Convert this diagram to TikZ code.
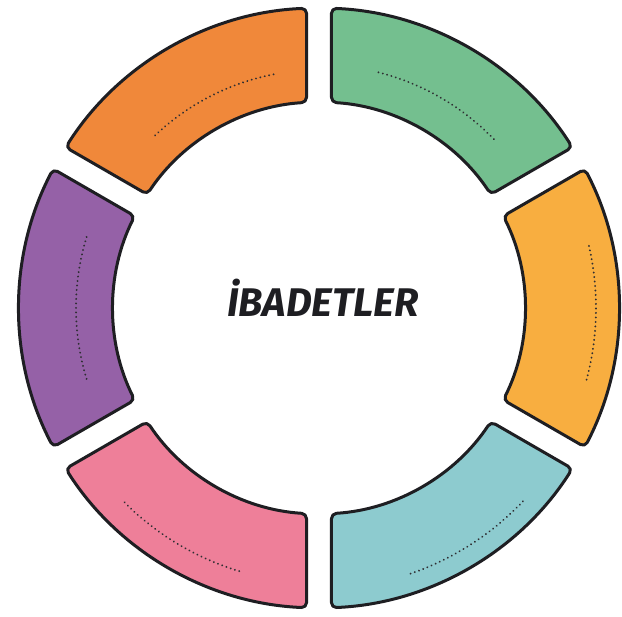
\documentclass[tikz,border=0pt]{standalone}
\usepackage{fontspec}
\newfontfamily\titlefont{Fira Sans}
\usetikzlibrary{calc}

\definecolor{segorange}{HTML}{F0883A}
\definecolor{seggreen}{HTML}{74BF8F}
\definecolor{segyellow}{HTML}{F8AE40}
\definecolor{segteal}{HTML}{8DCBCF}
\definecolor{segpink}{HTML}{EE7F99}
\definecolor{segpurple}{HTML}{9561A7}
\definecolor{segline}{HTML}{1E1E22}
\definecolor{dotcolor}{HTML}{2E2E32}

\tikzset{
  segment/.style={draw=segline, line width=3pt, rounded corners=5pt, line join=round},
  dotline/.style={draw=dotcolor, line width=2pt, dash pattern=on 0.1pt off 4.4pt, line cap=round},
}

\begin{document}
\begin{tikzpicture}[x=1pt,y=1pt]
    \useasboundingbox (0,0) rectangle (622,617);
    \coordinate (c) at (319,309);
    \def\Rout{300}
    \def\Rin{206}
    \def\gap{12.5}

    % ring segments
    \foreach \a/\b/\col in {90/150/segorange, 30/90/seggreen, -30/30/segyellow,
                            -90/-30/segteal, -150/-90/segpink, 150/210/segpurple}{
        \pgfmathsetmacro\dout{asin(\gap/\Rout)}
        \pgfmathsetmacro\din{asin(\gap/\Rin)}
        \draw [segment, fill=\col]
            ($(c)+(\a+\dout:\Rout)$) arc [start angle=\a+\dout, end angle=\b-\dout, radius=\Rout]
            -- ($(c)+(\b-\din:\Rin)$) arc [start angle=\b-\din, end angle=\a+\din, radius=\Rin]
            -- cycle;
    }

    % dotted writing lines
    \foreach \s/\e/\r in {101/134/238, 44/76/243, -15/13/277,
                          -71/-43/281, -135/-106/275, 163/197/243}{
        \draw [dotline] ($(c)+(\s:\r)$) arc [start angle=\s, end angle=\e, radius=\r];
    }

    \node [text=segline, font=\titlefont\bfseries\itshape\fontsize{40}{48}\selectfont]
        (title) at (323,319) {İBADETLER};
\end{tikzpicture}
\end{document}
